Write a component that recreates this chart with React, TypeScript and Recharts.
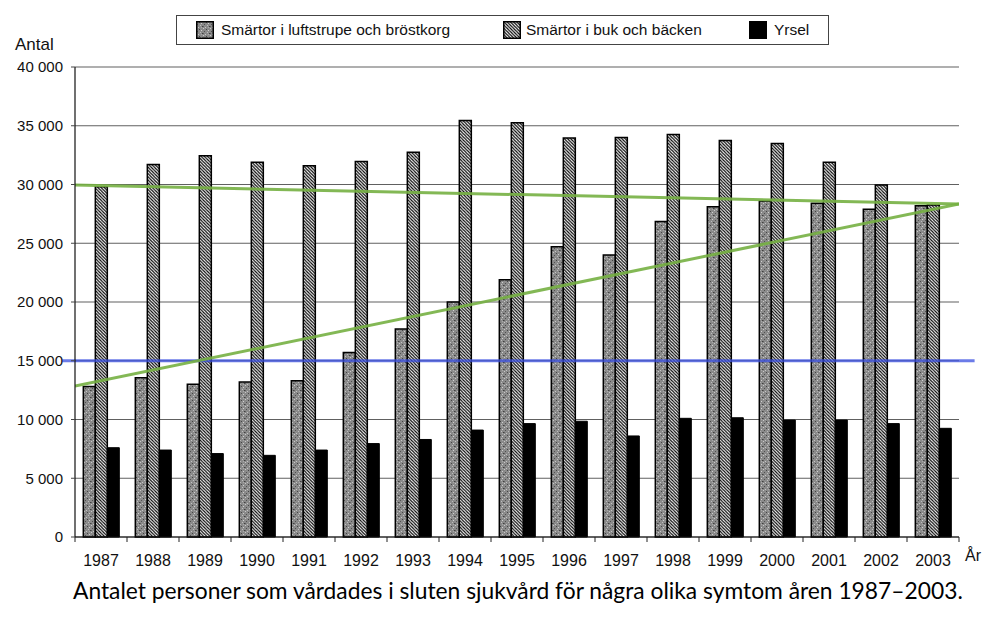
import React from 'react';
import { ComposedChart, Bar, Line, XAxis, YAxis, CartesianGrid, ReferenceLine } from 'recharts';

const years = ['1987', '1988', '1989', '1990', '1991', '1992', '1993', '1994', '1995', '1996', '1997', '1998', '1999', '2000', '2001', '2002', '2003'];
const luftstrupe = [12800, 13550, 13000, 13200, 13300, 15700, 17700, 20000, 21900, 24700, 24000, 26850, 28100, 28600, 28400, 27900, 28200];
const buk = [29800, 31700, 32450, 31900, 31600, 31950, 32750, 35450, 35250, 33950, 34000, 34250, 33750, 33500, 31900, 29950, 28250];
const yrsel = [7600, 7400, 7100, 6950, 7400, 7950, 8300, 9100, 9650, 9850, 8600, 10100, 10150, 9950, 9950, 9650, 9250];
const yTicks = [0, 5000, 10000, 15000, 20000, 25000, 30000, 35000, 40000];
const trendFlat = [29950, 28340];
const trendRise = [12850, 28340];
const blueLevel = 15000;
const blueExtent = [-0.25, 17.3];

const seriesNames = ['Smärtor i luftstrupe och bröstkorg', 'Smärtor i buk och bäcken', 'Yrsel'];
const seriesFills = ['url(#dotted)', 'url(#hatch)', '#000'];

const data = years.map((y, i) => ({ year: y, a: luftstrupe[i], b: buk[i], c: yrsel[i] }));
const flatData = [{ x: 0, v: trendFlat[0] }, { x: years.length, v: trendFlat[1] }];
const riseData = [{ x: 0, v: trendRise[0] }, { x: years.length, v: trendRise[1] }];

const W = 1000;
const H = 619;
const M = { top: 67, right: 41, bottom: 52, left: 0 };
const Y_AXIS_W = 75;
const PLOT_W = W - M.left - M.right - Y_AXIS_W;
const BAND = PLOT_W / years.length;
const FONT = '"Liberation Sans", Arial, sans-serif';

const fmt = (v: number) => String(v).replace(/\B(?=(\d{3})+(?!\d))/g, ' ');

const YearTick = (props: any) => {
  const { x, y, payload, index } = props;
  const last = index === years.length - 1;
  return (
    <g>
      <line x1={x - BAND / 2} x2={x - BAND / 2} y1={y} y2={y + 5} stroke="#222" strokeWidth={1} />
      {last && <line x1={x + BAND / 2} x2={x + BAND / 2} y1={y} y2={y + 5} stroke="#222" strokeWidth={1} />}
      <text x={x} y={y + 29} textAnchor="middle" fontSize={16} fontFamily={FONT} fill="#111">
        {payload.value}
      </text>
    </g>
  );
};

const Swatch = ({ fill, left }: { fill: string; left: number }) => (
  <svg style={{ position: 'absolute', left, top: 5 }} width={18} height={18}>
    <rect x={0.75} y={0.75} width={16.5} height={16.5} fill={fill} stroke="#000" strokeWidth={1.5} />
  </svg>
);

export default function App() {
  const legendPos = [
    { sw: 19, tx: 44 },
    { sw: 326, tx: 349 },
    { sw: 572, tx: 597 },
  ];
  return (
    <div style={{ position: 'absolute', left: 0, top: 0, width: W, height: H, background: '#fff' }}>
      <ComposedChart width={W} height={H} data={data} margin={M} barCategoryGap="16%" barGap={0}>
        <defs>
          <pattern id="dotted" patternUnits="userSpaceOnUse" width={7} height={7}>
            <rect width={7} height={7} fill="#8a8a8a" />
            <rect x={0} y={0} width={1} height={1} fill="#c8c8c8" />
            <rect x={3} y={1} width={1} height={1} fill="#444" />
            <rect x={5} y={2} width={1} height={1} fill="#d0d0d0" />
            <rect x={1} y={3} width={1} height={1} fill="#505050" />
            <rect x={4} y={4} width={1} height={1} fill="#bdbdbd" />
            <rect x={6} y={5} width={1} height={1} fill="#404040" />
            <rect x={2} y={6} width={1} height={1} fill="#c4c4c4" />
            <rect x={0} y={5} width={1} height={1} fill="#606060" />
            <rect x={5} y={6} width={1} height={1} fill="#aaa" />
          </pattern>
          <pattern id="hatch" patternUnits="userSpaceOnUse" width={3.2} height={3.2}>
            <rect width={3.2} height={3.2} fill="#fff" />
            <path d="M-1,-1 L4.2,4.2 M-1,2.2 L1,4.2 M2.2,-1 L4.2,1" stroke="#000" strokeWidth={1.15} />
          </pattern>
        </defs>
        <CartesianGrid vertical={false} stroke="#606060" strokeWidth={1.2} />
        <XAxis dataKey="year" height={30} axisLine={{ stroke: '#111', strokeWidth: 1.2 }} tickLine={false} tickSize={0} tickMargin={0} tick={<YearTick />} interval={0} />
        <XAxis xAxisId="trend" dataKey="x" type="number" domain={[0, years.length]} allowDataOverflow scale="linear" hide />
        <YAxis
          width={Y_AXIS_W}
          domain={[0, 40000]}
          ticks={yTicks}
          tickFormatter={fmt}
          tick={{ fontSize: 15, fontFamily: FONT, fill: '#111' }}
          tickSize={4}
          tickMargin={8}
          tickLine={{ stroke: '#444' }}
          axisLine={{ stroke: '#111', strokeWidth: 1.2 }}
          interval={0}
        />
        <YAxis yAxisId="right" orientation="right" width={0} domain={[0, 40000]} tick={false} tickLine={false} axisLine={{ stroke: '#777', strokeWidth: 1.2 }} />
        <Bar dataKey="a" name={seriesNames[0]} fill={seriesFills[0]} stroke="#000" strokeWidth={1.5} isAnimationActive={false} />
        <Bar dataKey="b" name={seriesNames[1]} fill={seriesFills[1]} stroke="#000" strokeWidth={1.5} isAnimationActive={false} />
        <Bar dataKey="c" name={seriesNames[2]} fill={seriesFills[2]} stroke="#000" strokeWidth={1} isAnimationActive={false} />
        <ReferenceLine
          xAxisId="trend"
          segment={[{ x: blueExtent[0], y: blueLevel }, { x: blueExtent[1], y: blueLevel }]}
          stroke="#3a4fe0"
          strokeOpacity={0.75}
          strokeWidth={3}
          ifOverflow="visible"
        />
        <Line xAxisId="trend" data={flatData} dataKey="v" type="linear" stroke="#76b043" strokeOpacity={0.9} strokeWidth={3} dot={false} activeDot={false} legendType="none" isAnimationActive={false} />
        <Line xAxisId="trend" data={riseData} dataKey="v" type="linear" stroke="#76b043" strokeOpacity={0.9} strokeWidth={3} dot={false} activeDot={false} legendType="none" isAnimationActive={false} />
      </ComposedChart>

      <div style={{ position: 'absolute', left: 176, top: 15, width: 653, height: 30, border: '1px solid #444', boxSizing: 'border-box', fontFamily: FONT, fontSize: 15.5, color: '#111' }}>
        {seriesNames.map((n, i) => (
          <React.Fragment key={n}>
            <Swatch fill={seriesFills[i]} left={legendPos[i].sw} />
            <div style={{ position: 'absolute', left: legendPos[i].tx, top: 5, lineHeight: '18px', whiteSpace: 'nowrap' }}>{n}</div>
          </React.Fragment>
        ))}
      </div>

      <div style={{ position: 'absolute', left: 15, top: 35, fontFamily: FONT, fontSize: 17, color: '#111', lineHeight: '20px' }}>Antal</div>
      <div style={{ position: 'absolute', left: 965, top: 546, fontFamily: FONT, fontSize: 16, color: '#111', lineHeight: '20px' }}>År</div>
      <div style={{ position: 'absolute', left: 73, top: 576, width: 887, textAlign: 'center', fontFamily: 'Lato, "Open Sans", sans-serif', fontSize: 22.8, color: '#000', lineHeight: '28px', whiteSpace: 'nowrap' }}>
        Antalet personer som vårdades i sluten sjukvård för några olika symtom åren 1987–2003.
      </div>
    </div>
  );
}
